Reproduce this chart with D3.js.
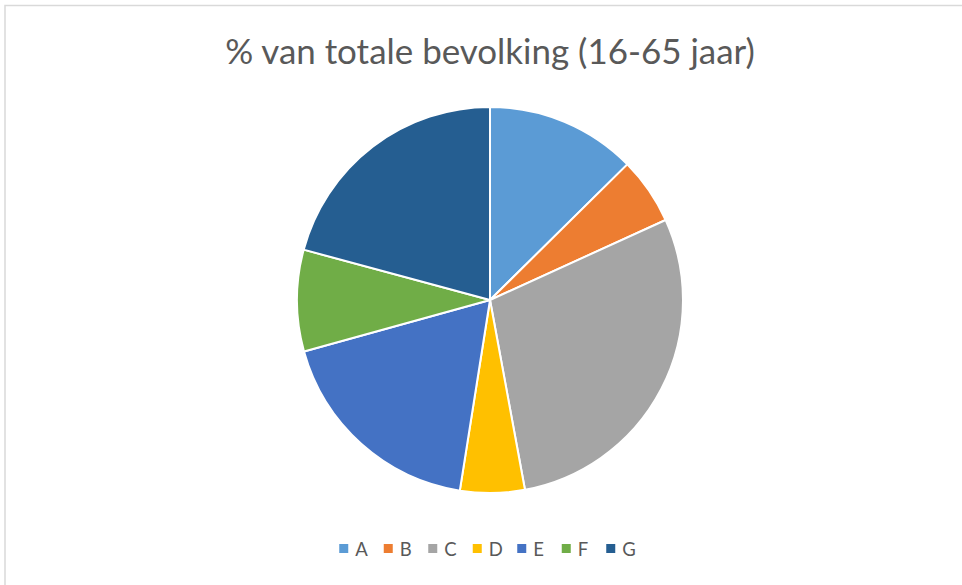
<!DOCTYPE html>
<html><head><meta charset="utf-8">
<script src="https://cdn.jsdelivr.net/npm/d3@7"></script>
<style>body{margin:0;background:#fff;}svg{display:block;}</style>
</head><body>
<svg id="c" width="962" height="585"></svg>
<script>
const categories = ["A","B","C","D","E","F","G"];
const values = [12.6, 5.6, 28.9, 5.4, 18.2, 8.5, 20.8];
const colors = ["#5B9BD5","#ED7D31","#A5A5A5","#FFC000","#4472C4","#70AD47","#255E91"];
const title = "% van totale bevolking (16-65 jaar)";

const svg = d3.select("#c");
svg.append("rect").attr("x",5).attr("y",5.5).attr("width",970).attr("height",600)
  .attr("fill","#fff").attr("stroke","#d9d9d9").attr("stroke-width",1.5);

const t = svg.append("text").attr("x",490).attr("y",64).attr("text-anchor","middle")
  .attr("font-family","Lato, 'Open Sans', sans-serif").attr("font-size",31).attr("fill","#595959").text(title);
const tw = t.node().getComputedTextLength();
t.attr("font-size", 31*530/tw);

const data = categories.map((c,i)=>({c, v:values[i], col:colors[i]}));
const pie = d3.pie().value(d=>d.v).sort(null);
const arc = d3.arc().innerRadius(0).outerRadius(193);
const g = svg.append("g").attr("transform","translate(490,300)");
g.selectAll("path").data(pie(data)).join("path").attr("d",arc)
  .attr("fill",d=>d.data.col).attr("stroke","#fff").attr("stroke-width",2).attr("stroke-linejoin","round");

const step = 44.5;
const lx0 = 490 - step*(categories.length)/2;
const lg = svg.append("g");
data.forEach((d,i)=>{
  const x = lx0 + i*step + 5;
  lg.append("rect").attr("x",x).attr("y",544).attr("width",9).attr("height",9).attr("fill",d.col);
  lg.append("text").attr("x",x+16).attr("y",556).attr("font-family","Lato, 'Open Sans', sans-serif")
    .attr("font-size",18.5).attr("fill","#595959").text(d.c);
});
</script>
</body></html>
